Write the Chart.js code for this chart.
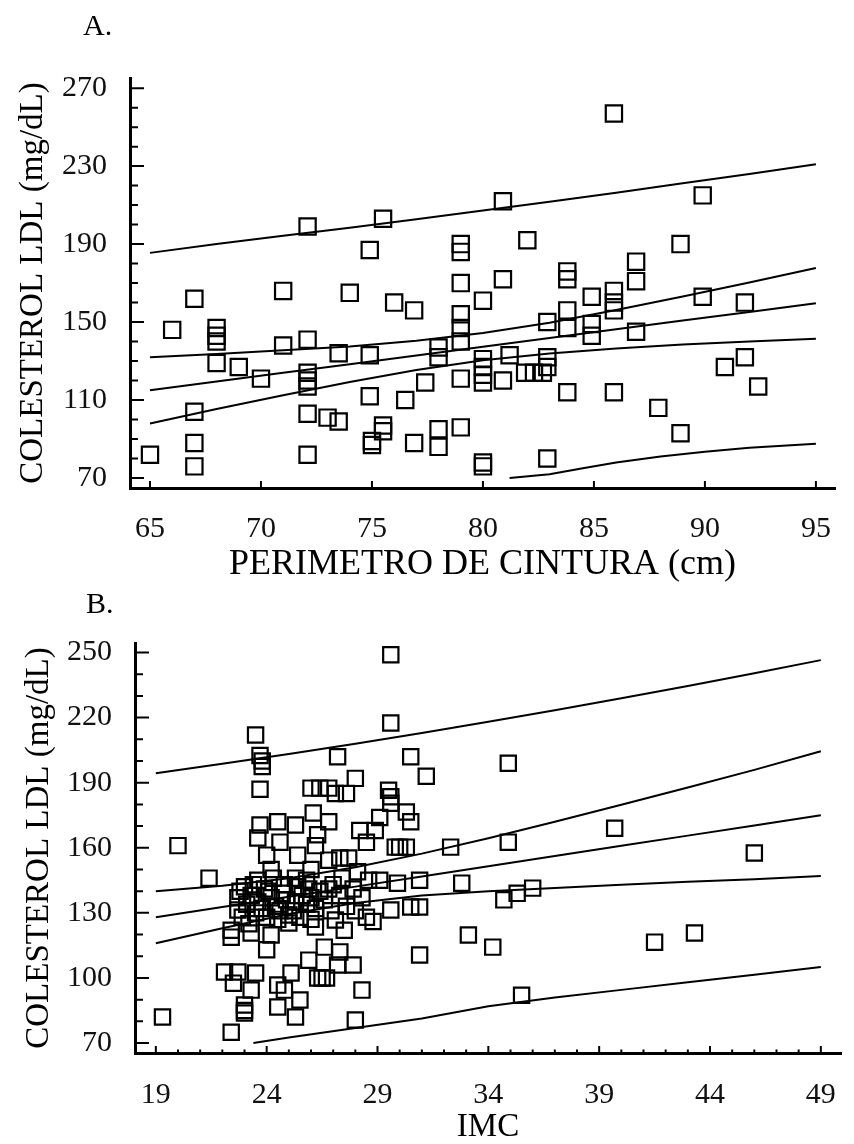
<!DOCTYPE html>
<html><head><meta charset="utf-8">
<script src="https://cdn.jsdelivr.net/npm/chart.js@4.4.1/dist/chart.umd.min.js"></script>
<style>
html,body{margin:0;padding:0;background:#fff;}
body{width:854px;height:1144px;position:relative;overflow:hidden;}
canvas{position:absolute;left:0;}
#cA{top:0;} #cB{top:580px;}
.lab{position:absolute;font-family:"Liberation Serif",serif;font-size:30px;line-height:30px;color:#000;z-index:5;}
</style></head><body>
<canvas id="cA" width="854" height="600"></canvas>
<canvas id="cB" width="854" height="564"></canvas>
<div class="lab" style="left:83px;top:10px">A.</div>
<div class="lab" style="left:86px;top:588px">B.</div>
<script>
// ---------- Panel A: waist perimeter vs LDL ----------
const waistA = [65.0,66.0,67.0,67.0,67.0,67.0,68.0,68.0,68.0,68.0,69.0,70.0,71.0,71.0,72.1,72.1,72.1,72.1,72.1,72.1,72.1,73.0,73.5,73.5,74.0,74.9,74.9,74.9,75.0,75.0,75.5,75.5,75.5,76.0,76.5,76.9,76.9,77.4,78.0,78.0,78.0,78.0,79.0,79.0,79.0,79.0,79.0,79.0,79.0,79.0,80.0,80.0,80.0,80.0,80.0,80.0,80.0,80.9,80.9,80.9,81.2,82.0,81.9,82.3,82.7,82.9,82.9,82.9,82.9,83.8,83.8,83.8,83.8,83.8,84.9,84.9,84.9,85.9,85.9,85.9,85.9,85.9,86.9,86.9,86.9,87.9,88.9,88.9,89.9,89.9,90.9,91.8,91.8,92.4];
const ldlA = [82,146,162,104,88,76,147,143,140,129,127,121,166,138,199,141,124,120,117,103,82,101,99,134,165,187,133,112,89,87,203,97,94,160,110,156,88,119,137,132,95,86,190,186,170,154,147,140,121,96,161,131,127,123,119,78,76,212,172,120,133,192,124,124,124,150,132,127,80,176,172,156,147,114,163,149,143,257,166,160,156,114,181,171,145,106,190,93,215,163,127,160,132,117];
const lineXA = [65,68,71,74,77,80,83,86,89,92,95];
const fitA   = [115,119.5,124,128.4,132.9,137.4,141.8,146.3,150.8,155.2,159.7];
const ciUpA  = [132,133.6,135.5,137.5,140.4,144.4,149.7,156.2,163.1,170.3,177.7];
const ciLoA  = [98,105.4,112.5,119.3,125.4,130.4,133.9,136.4,138.5,140.1,141.5];
const prUpA  = [185.5,190.1,194.3,198.4,202.7,207.2,211.7,216.4,221.2,226,231];
const prLoXA = [81.2,83,84.5,86,88,90,92,95];
const prLoA  = [70,72,75,78,81,83.5,85.5,87.6];
const xTicksA = [65,70,75,80,85,90,95];
const yTicksA = [70,110,150,190,230,270];

// ---------- Panel B: BMI vs LDL ----------
const imcB = [29.6,29.6,23.5,23.7,23.8,23.8,27.2,30.5,28.0,31.2,34.9,23.7,26.0,26.4,26.8,27.1,27.6,29.5,29.6,29.6,30.3,30.5,29.1,26.1,23.7,24.5,25.3,26.8,28.2,28.9,39.7,23.6,24.6,26.3,26.2,28.5,20.0,29.8,30.0,30.3,32.3,34.9,46.0,25.4,26.8,27.3,27.7,24.0,24.2,26.0,25.3,28.1,21.4,29.1,29.9,30.9,32.8,36.0,35.3,34.7,29.6,30.5,30.9,22.7,22.4,22.4,23.3,24.2,25.0,26.2,27.1,33.1,34.2,24.0,30.9,25.9,26.6,27.3,27.9,27.2,41.5,43.3,26.3,26.5,26.7,22.1,22.7,23.5,25.1,22.5,23.3,24.5,24.8,28.3,35.5,23.0,23.0,23.0,24.5,25.5,25.3,19.3,22.4,28.0,22.8,23.0,23.3,23.6,23.9,24.2,24.4,24.7,24.9,25.2,25.4,25.6,25.8,26.0,26.2,26.4,23.1,23.5,24.0,24.5,25.0,25.5,26.0,22.9,23.2,24.8,25.8,26.6,26.9,27.3,27.6,27.9,28.3,28.6,24.3,23.6,27.0,27.4,28.0,28.5,27.5,28.8,23.8,24.6,25.3,26.8,22.7,23.4,25.9,24.1];
const ldlB = [249,217.5,212,202.5,200,197.5,202,202,192,193,199,187,187.5,187.5,187.5,185,185,186.5,183.5,180.5,176.5,172,174,176,170.5,172,170.5,172,168,168,169,164.5,162.6,166,161,162.5,161,160.3,160.3,160.3,160.3,162.6,157.6,156.6,154.3,155.3,155.3,156.6,150,150,146,149,146,145,143.7,145,143.7,141.4,139,136,131.3,132.7,132.7,131.3,122,118.8,120.7,119.8,125.3,123.5,126.7,119.8,114.2,113,110.6,108.2,114.2,112,106,106,116.5,120.7,100,100,100,102.7,102.7,102.3,102.3,97.6,94.4,96.7,94.4,94.4,92,87.5,85,83.8,86.6,89.8,82,82,75,80.6,140,142,138,135,141,137,133,139,136,131,142,138,134,137,132,140,134,130,128,127,129,128,127,128,125,143,145,136,131,138,133,141,137,145,146,145,143,146,131,128,122,126,132,131,135,141,137,143,141,140];
const lineXB = [19,22,25,28,31,34,37,40,43,46,49];
const fitB   = [128,132.7,137.4,142.1,146.8,151.5,156.2,160.9,165.6,170.3,175];
const ciUpB  = [140,142.5,146,151,157.3,164.4,172,179.8,187.8,195.9,204.5];
const ciLoB  = [116,122.9,129.5,134.5,138,140,141.5,143,144.3,145.5,147];
const prUpB  = [194.4,198.7,203.2,208,212.9,218.1,223.4,228.9,234.6,240.5,246.5];
const prLoXB = [23.4,25,28,31,34,37,40,43,46,49];
const prLoB  = [70,72.5,76.9,81.3,87,91,94.5,98,101.5,105];
const xTicksB = [19,24,29,34,39,44,49];
const yTicksB = [70,100,130,160,190,220,250];

// ---------- helpers ----------
const SERIF = '"Liberation Serif", "Times New Roman", serif';
const zip = (xs, ys) => xs.map((x, i) => ({x: x, y: ys[i]}));
const line = (xs, ys) => ({data: zip(xs, ys), showLine: true, pointRadius: 0, borderColor: '#000', borderWidth: 2, fill: false, tension: 0});
function minorList(from, to, step, majors) {
  const out = [];
  for (let v = from; v <= to + 1e-9; v += step) if (!majors.includes(Math.round(v * 100) / 100)) out.push(Math.round(v * 100) / 100);
  return out;
}

const inwardTicks = {
  id: 'inwardTicks',
  afterDraw(chart, args, o) {
    const ctx = chart.ctx, a = chart.chartArea, xs = chart.scales.x, ys = chart.scales.y;
    ctx.save();
    ctx.strokeStyle = '#000';
    ctx.lineWidth = 2;
    ctx.beginPath();
    o.yMajor.forEach(v => { const p = ys.getPixelForValue(v); ctx.moveTo(a.left, p); ctx.lineTo(a.left + o.yMajorLen, p); });
    o.yMinor.forEach(v => { const p = ys.getPixelForValue(v); ctx.moveTo(a.left, p); ctx.lineTo(a.left + o.yMinorLen, p); });
    o.xMajor.forEach(v => { const p = xs.getPixelForValue(v); ctx.moveTo(p, a.bottom); ctx.lineTo(p, a.bottom - o.xMajorLen); });
    o.xMinor.forEach(v => { const p = xs.getPixelForValue(v); ctx.moveTo(p, a.bottom); ctx.lineTo(p, a.bottom - o.xMinorLen); });
    ctx.stroke();
    ctx.restore();
  }
};

function build(id, cfg) {
  return new Chart(document.getElementById(id), {
    type: 'scatter',
    data: {datasets: [
      {data: zip(cfg.px, cfg.py), pointStyle: 'rect', pointRadius: cfg.r, pointBorderWidth: 2.2,
       pointBorderColor: '#000', pointBackgroundColor: 'rgba(0,0,0,0)', borderColor: '#000', backgroundColor: 'rgba(0,0,0,0)', showLine: false},
      ...cfg.lines.map(l => line(l[0], l[1]))
    ]},
    options: {
      responsive: false, animation: false, devicePixelRatio: 1, events: [],
      layout: {padding: {top: cfg.top, right: cfg.right, left: 0, bottom: 0}},
      plugins: {legend: {display: false}, tooltip: {enabled: false}, inwardTicks: cfg.ticks},
      scales: {
        x: {type: 'linear', min: cfg.xmin, max: cfg.xmax,
          afterFit: s => { s.height = cfg.xh; },
          afterBuildTicks: s => { s.ticks = cfg.xMajor.map(v => ({value: v})); },
          grid: {display: false}, border: {display: true, color: '#000', width: 3},
          ticks: {font: {family: SERIF, size: 30}, color: '#111', padding: cfg.xpad, maxRotation: 0, autoSkip: false, callback: v => String(v)},
          title: {display: true, text: cfg.xtitle, color: '#000', font: {family: SERIF, size: cfg.xtsize, lineHeight: 1}, padding: {top: 0, bottom: cfg.xtpb}}},
        y: {type: 'linear', min: cfg.ymin, max: cfg.ymax,
          afterFit: s => { s.width = cfg.yw; },
          afterBuildTicks: s => { s.ticks = cfg.yMajor.map(v => ({value: v})); },
          grid: {display: false}, border: {display: true, color: '#000', width: 3},
          ticks: {font: {family: SERIF, size: 30}, color: '#111', padding: 15, autoSkip: false, callback: v => String(v)},
          title: {display: true, text: 'COLESTEROL LDL (mg/dL)', color: '#000', font: {family: SERIF, size: 33, lineHeight: 1}, padding: {top: cfg.ytpt, bottom: 0}}}
      }
    },
    plugins: [inwardTicks]
  });
}

build('cA', {
  px: waistA, py: ldlA, r: 11.5,
  lines: [[lineXA, fitA], [lineXA, ciUpA], [lineXA, ciLoA], [lineXA, prUpA], [prLoXA, prLoA]],
  top: 78, right: 19, xh: 112, yw: 130,
  xmin: 64.1, xmax: 95.86, ymin: 64.9, ymax: 275.2,
  xMajor: xTicksA, yMajor: yTicksA, xpad: 15,
  xtitle: 'PERIMETRO DE CINTURA (cm)', xtsize: 36, xtpb: 17, ytpt: 17,
  ticks: {yMajor: yTicksA, yMinor: minorList(70, 270, 10, yTicksA), yMajorLen: 14, yMinorLen: 8,
          xMajor: xTicksA, xMinor: [], xMajorLen: 7, xMinorLen: 0}
});

build('cB', {
  px: imcB, py: ldlB, r: 10.8,
  lines: [[lineXB, fitB], [lineXB, ciUpB], [lineXB, ciLoB], [lineXB, prUpB], [prLoXB, prLoB]],
  top: 63, right: 4, xh: 91, yw: 135,
  xmin: 18.06, xmax: 49.91, ymin: 65.4, ymax: 254.4,
  xMajor: xTicksB, yMajor: yTicksB, xpad: 16,
  xtitle: 'IMC', xtsize: 33, xtpb: 0, ytpt: 23,
  ticks: {yMajor: yTicksB, yMinor: minorList(70, 250, 10, yTicksB), yMajorLen: 14, yMinorLen: 8,
          xMajor: xTicksB, xMinor: minorList(19, 49, 1, xTicksB), xMajorLen: 7, xMinorLen: 3.5}
});
</script>
</body></html>
